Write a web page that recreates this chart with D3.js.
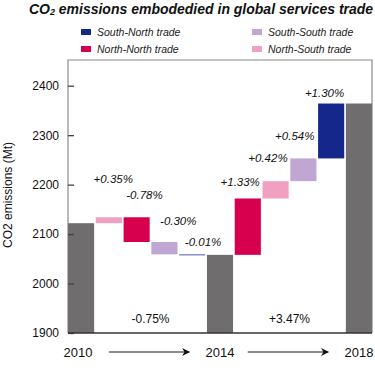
<!DOCTYPE html>
<html>
<head>
<meta charset="utf-8">
<script src="https://cdn.jsdelivr.net/npm/d3@7"></script>
<style>
body { margin: 0; background: #fff; }
svg { display: block; font-family: "Liberation Sans", Arial, sans-serif; }
</style>
</head>
<body>
<svg width="375" height="375"></svg>
<script>
// waterfall steps, left to right
const stepKind = ['total', 'North-South', 'North-North', 'South-South', 'South-North', 'total',
	'North-North', 'North-South', 'South-South', 'South-North', 'total'];
const stepValue = [2122, 12, -50, -25, -1, 2058, 114, 35, 46, 111, 2364];
const stepLabel = ['', '+0.35%', '-0.78%', '-0.30%', '-0.01%', '', '+1.33%', '+0.42%', '+0.54%', '+1.30%', ''];
const yearLabels = ['2010', '2014', '2018'];
const periodChange = ['-0.75%', '+3.47%'];
const legendOrder = ['South-North', 'South-South', 'North-North', 'North-South'];
const yTicks = [1900, 2000, 2100, 2200, 2300, 2400];

const colors = {
	'total': '#6f6d6e',
	'South-North': '#13288a',
	'North-North': '#d7004f',
	'South-South': '#c0a6d3',
	'North-South': '#f0a0c0'
};
// label nudges [dx from bar right, dy from bar top]
const labelNudge = [null, [11, -34], [13, -18], [19, -17], [16, -8], null, [-1, -12], [-1, -19], [-2, -18], [0, -7], null];

const plotLeft = 68, plotRight = 372, plotTop = 60, plotBottom = 333;

var svg = d3.select('svg');

// build waterfall rows
var rows = [];
var level = 0;
stepValue.forEach(function(v, i){
	if(stepKind[i] === 'total'){
		rows.push({i: i, kind: 'total', y0: 1900, y1: v});
		level = v;
	} else {
		rows.push({i: i, kind: stepKind[i], y0: level, y1: level + v});
		level += v;
	}
});

var x = d3.scaleBand().domain(d3.range(stepValue.length)).range([plotLeft, plotRight]).paddingInner(0.06).paddingOuter(0);
var y = d3.scaleLinear().domain([1900, 2452]).range([plotBottom, plotTop]);

// frame
svg.append('path')
	.attr('d', 'M' + plotLeft + ',' + plotBottom + 'V' + plotTop + 'H' + plotRight + 'V' + plotBottom)
	.attr('fill', 'none').attr('stroke', '#8a8a8a').attr('stroke-width', 1.2);

// bars
svg.append('g').selectAll('rect')
	.data(rows).enter().append('rect')
	.attr('x', d => x(d.i))
	.attr('width', x.bandwidth())
	.attr('y', d => y(Math.max(d.y0, d.y1)))
	.attr('height', d => Math.max(1, Math.abs(y(d.y0) - y(d.y1))))
	.attr('fill', d => d.i === 4 ? '#4a5cc0' : colors[d.kind]);

// y axis
var yAxis = d3.axisLeft(y).tickValues(yTicks).tickFormat(d3.format('d'))
	.tickSizeInner(-6).tickSizeOuter(0).tickPadding(9);
var ga = svg.append('g').attr('transform', 'translate(' + plotLeft + ',0)').call(yAxis);
ga.select('.domain').remove();
ga.selectAll('line').attr('stroke', '#444').attr('stroke-width', 1.3);
ga.selectAll('text').attr('font-size', 12).attr('fill', '#111').attr('font-family', '"Liberation Sans", Arial, sans-serif');

// bottom axis line
svg.append('line').attr('x1', plotLeft).attr('x2', plotRight).attr('y1', plotBottom).attr('y2', plotBottom)
	.attr('stroke', '#333').attr('stroke-width', 1.5);

// step labels
svg.append('g').selectAll('text')
	.data(rows.filter(d => stepLabel[d.i] !== '')).enter().append('text')
	.attr('x', d => x(d.i) + x.bandwidth() + labelNudge[d.i][0])
	.attr('y', d => y(Math.max(d.y0, d.y1)) + labelNudge[d.i][1])
	.attr('text-anchor', 'end')
	.attr('font-size', 11.5).attr('font-style', 'italic').attr('fill', '#111')
	.text(d => stepLabel[d.i]);

// years under totals
var totals = rows.filter(d => d.kind === 'total');
svg.append('g').selectAll('text')
	.data(totals).enter().append('text')
	.attr('x', (d, k) => x(d.i) + x.bandwidth() / 2 - (k === 0 ? 3 : 0))
	.attr('y', 357)
	.attr('text-anchor', 'middle').attr('font-size', 13).attr('fill', '#111')
	.text((d, k) => yearLabels[k]);

// arrows and period change
svg.append('defs').append('marker')
	.attr('id', 'head').attr('viewBox', '0 0 10 10').attr('refX', 9).attr('refY', 5)
	.attr('markerWidth', 10).attr('markerHeight', 8).attr('markerUnits', 'userSpaceOnUse')
	.attr('orient', 'auto')
	.append('path').attr('d', 'M0,0L10,5L0,10L3,5Z').attr('fill', '#111');

var periods = [[1, 4], [6, 9]];
periods.forEach(function(p, k){
	var a = x(p[0]), b = x(p[1]) + x.bandwidth();
	svg.append('line')
		.attr('x1', a + 13).attr('x2', b - 16).attr('y1', 352).attr('y2', 352)
		.attr('stroke', '#666').attr('stroke-width', 1.3).attr('marker-end', 'url(#head)');
	svg.append('text')
		.attr('x', (a + b) / 2).attr('y', 323)
		.attr('text-anchor', 'middle').attr('font-size', 12).attr('fill', '#111')
		.text(periodChange[k]);
});

// y label
svg.append('text')
	.attr('transform', 'translate(12,195) rotate(-90)')
	.attr('text-anchor', 'middle').attr('font-size', 12).attr('fill', '#111')
	.text('CO2 emissions (Mt)');

// title
var title = svg.append('text')
	.attr('x', 201).attr('y', 14).attr('text-anchor', 'middle')
	.attr('font-size', 14).attr('font-weight', 'bold').attr('font-style', 'italic').attr('fill', '#111');
title.append('tspan').text('CO');
title.append('tspan').attr('font-size', 9).attr('dy', 1).text('2');
title.append('tspan').attr('dy', -1).text(' emissions embodedied in global services trade');

// legend
var legend = svg.append('g').selectAll('g')
	.data(legendOrder).enter().append('g')
	.attr('transform', (d, i) => 'translate(' + (i % 2 === 0 ? 81 : 252) + ',' + (i < 2 ? 32 : 49) + ')');
legend.append('rect').attr('x', 0).attr('y', -3).attr('width', 10).attr('height', 6)
	.attr('fill', d => colors[d]);
legend.append('text').attr('x', 16).attr('y', 4)
	.attr('font-size', 10.5).attr('font-style', 'italic').attr('fill', '#222')
	.text(d => d + ' trade');
</script>
</body>
</html>
